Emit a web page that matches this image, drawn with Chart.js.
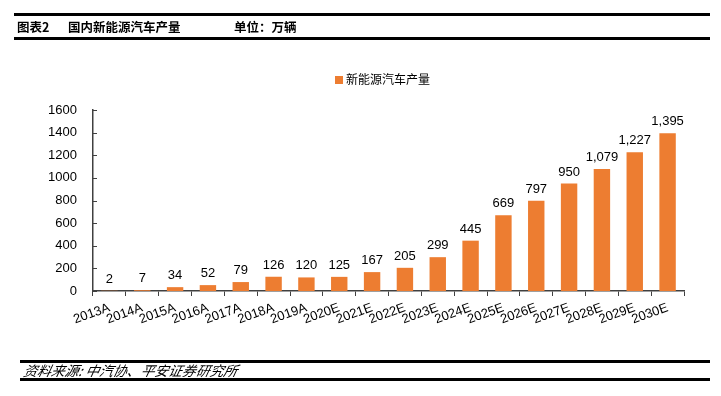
<!DOCTYPE html>
<html>
<head>
<meta charset="utf-8">
<script src="https://cdn.jsdelivr.net/npm/chart.js@4/dist/chart.umd.min.js"></script>
<style>
html,body{margin:0;padding:0;background:#fff;}
#wrap{position:relative;width:721px;height:396px;overflow:hidden;font-family:"Liberation Sans",Arial,sans-serif;}
canvas{position:absolute;left:0;top:0;}
.rule{position:absolute;height:3px;background:#000;}
.hd{position:absolute;top:18px;font-family:"Noto Sans CJK SC",sans-serif;font-weight:bold;font-size:12.5px;line-height:17px;color:#000;}
.ft{position:absolute;left:22px;top:362px;font-family:"Noto Sans CJK SC",sans-serif;font-style:italic;font-size:13.8px;line-height:17px;color:#000;transform:skewX(-12deg);transform-origin:left bottom;}
.lg{position:absolute;top:71px;left:335px;font-family:"Noto Sans CJK SC",sans-serif;font-size:12px;line-height:16px;color:#000;}
.lg i{display:inline-block;width:8px;height:8px;background:#ED7D31;margin-right:3px;vertical-align:0px;}
</style>
</head>
<body>
<div id="wrap">
<canvas id="c" width="721" height="396"></canvas>
<div class="rule" style="left:14px;width:696px;top:13px;"></div>
<div class="rule" style="left:14px;width:696px;top:37px;"></div>
<div class="hd" style="left:17px;">图表2</div>
<div class="hd" style="left:68px;">国内新能源汽车产量</div>
<div class="hd" style="left:234px;">单位：万辆</div>
<div class="lg"><i></i>新能源汽车产量</div>
<div class="rule" style="left:20px;width:690px;top:360px;"></div>
<div class="rule" style="left:20px;width:690px;top:378px;"></div>
<div class="ft">资料来源: 中汽协、平安证券研究所</div>
</div>
<script>
const categories = ["2013A","2014A","2015A","2016A","2017A","2018A","2019A","2020E","2021E","2022E","2023E","2024E","2025E","2026E","2027E","2028E","2029E","2030E"];
const production = [2,7,34,52,79,126,120,125,167,205,299,445,669,797,950,1079,1227,1395];
const seriesName = "新能源汽车产量";
const yTicks = [0,200,400,600,800,1000,1200,1400,1600];

const valueLabels = {
  id: 'valueLabels',
  afterDatasetsDraw(chart) {
    const ctx = chart.ctx;
    const meta = chart.getDatasetMeta(0);
    ctx.save();
    ctx.font = '13px "Liberation Sans", Arial, sans-serif';
    ctx.fillStyle = '#000';
    ctx.textAlign = 'center';
    ctx.textBaseline = 'alphabetic';
    meta.data.forEach((bar, i) => {
      const v = chart.data.datasets[0].data[i];
      ctx.fillText(v.toLocaleString('en-US'), bar.x, bar.y - 8);
    });
    ctx.restore();
  }
};

const yInnerTicks = {
  id: 'yInnerTicks',
  afterDraw(chart) {
    const ctx = chart.ctx;
    const y = chart.scales.y;
    const left = chart.chartArea.left;
    ctx.save();
    ctx.strokeStyle = '#404040';
    ctx.lineWidth = 1;
    yTicks.forEach(t => {
      const py = Math.round(y.getPixelForValue(t)) + 0.5;
      ctx.beginPath();
      ctx.moveTo(left, py);
      ctx.lineTo(left + 4, py);
      ctx.stroke();
    });
    ctx.restore();
  }
};

new Chart(document.getElementById('c'), {
  type: 'bar',
  data: {
    labels: categories,
    datasets: [{
      label: seriesName,
      data: production,
      backgroundColor: '#ED7D31',
      barPercentage: 0.5,
      categoryPercentage: 1.0
    }]
  },
  options: {
    responsive: false,
    animation: false,
    devicePixelRatio: 1,
    layout: { padding: { top: 110, left: 0, right: 37, bottom: 0 } },
    plugins: { legend: { display: false }, tooltip: { enabled: false } },
    scales: {
      x: {
        offset: true,
        grid: { display: true, drawOnChartArea: false, drawTicks: true, tickLength: 5, color: '#404040', offset: true },
        border: { display: true, color: '#404040', width: 1.5 },
        ticks: {
          color: '#000',
          font: { family: '"Liberation Sans", Arial, sans-serif', size: 13 },
          minRotation: 20, maxRotation: 20, padding: 4, autoSkip: false
        },
        afterFit(scale) { scale.height = 105; }
      },
      y: {
        min: 0, max: 1600,
        afterBuildTicks(scale) { scale.ticks = yTicks.map(v => ({ value: v })); },
        grid: { display: false, drawTicks: false },
        border: { display: true, color: '#404040', width: 1.5 },
        ticks: {
          color: '#000',
          font: { family: '"Liberation Sans", Arial, sans-serif', size: 13 },
          padding: 16,
          callback: (v) => String(v)
        },
        afterFit(scale) { scale.width = 93; }
      }
    }
  },
  plugins: [valueLabels, yInnerTicks]
});
</script>
</body>
</html>
